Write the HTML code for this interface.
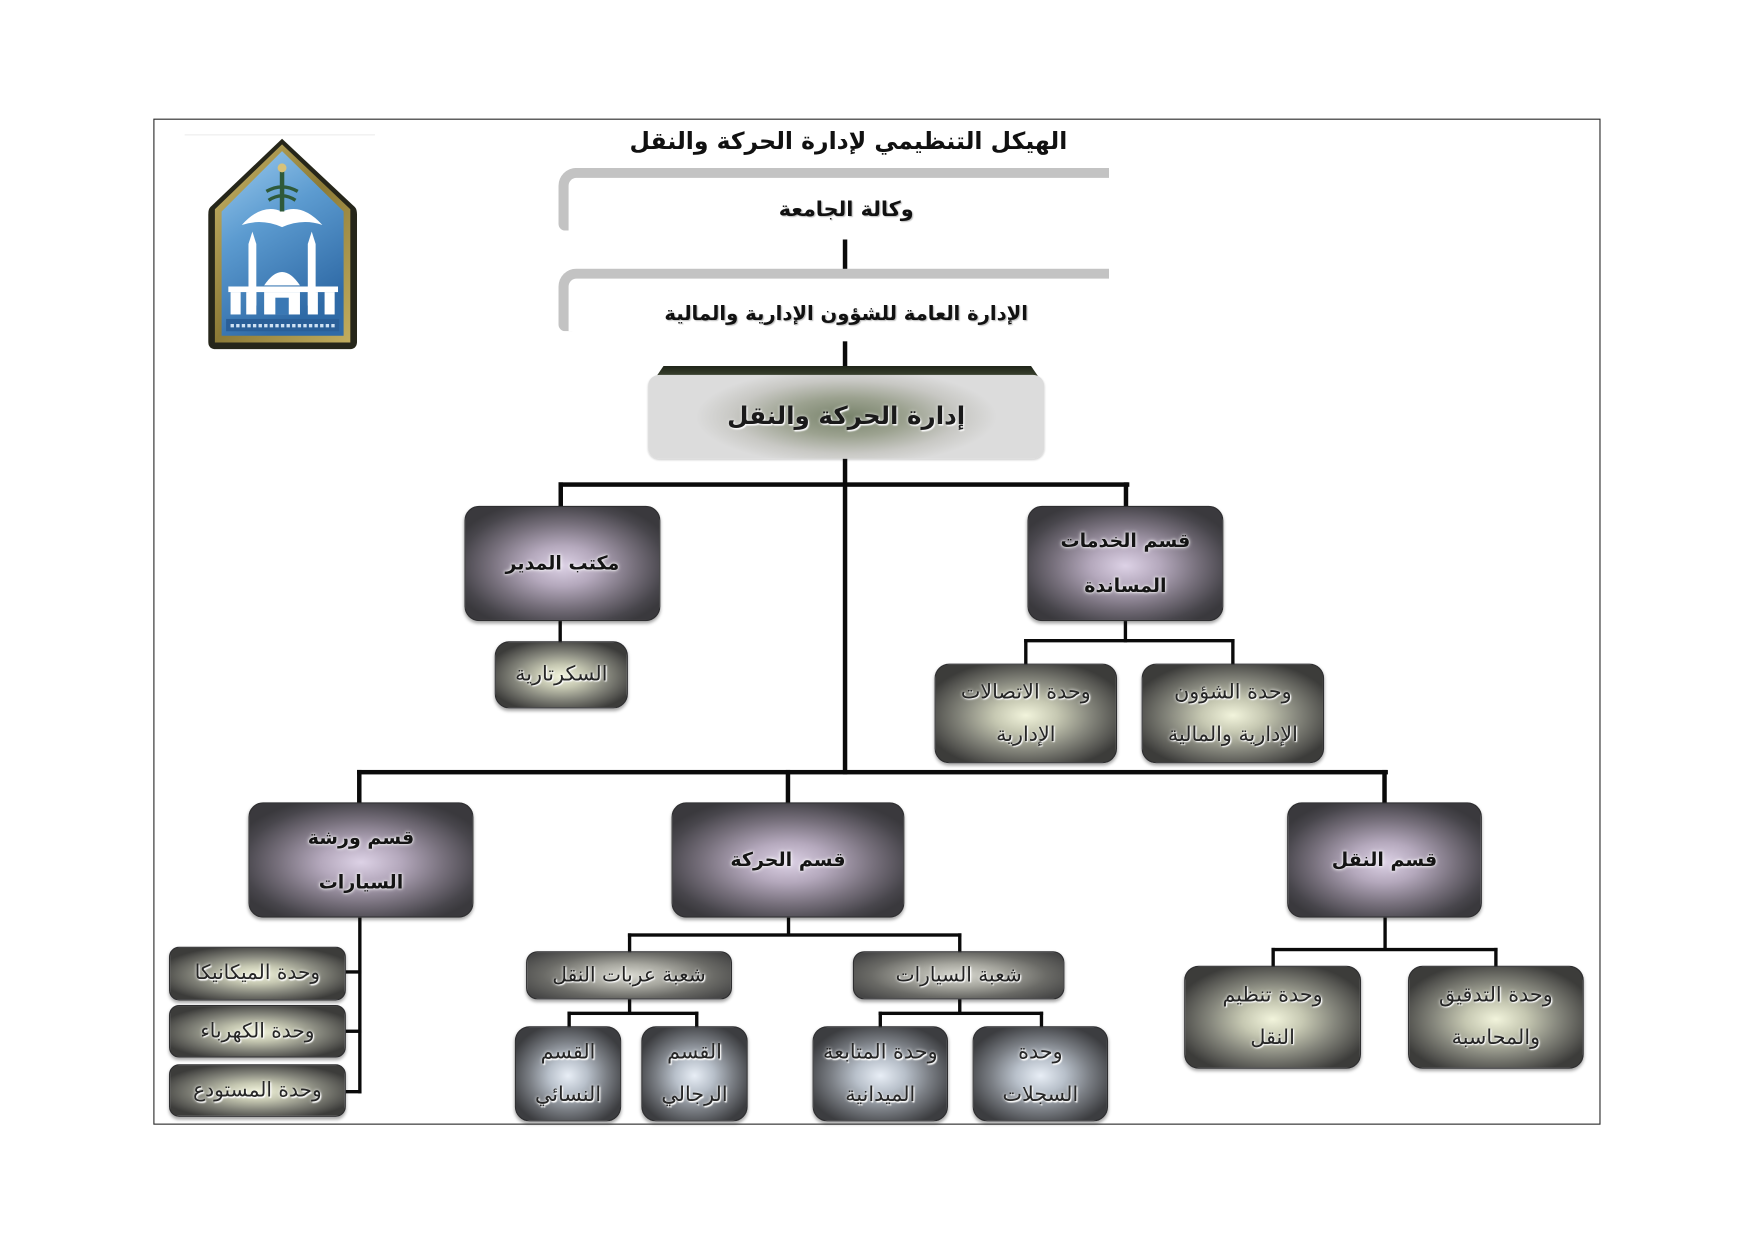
<!DOCTYPE html>
<html lang="ar">
<head>
<meta charset="utf-8">
<style>
html,body{margin:0;padding:0;background:#fff;}
body{width:1755px;height:1240px;overflow:hidden;position:relative;}
#stage{position:absolute;left:0;top:0;width:1568px;height:1108px;transform:scale(1.11926,1.1191);transform-origin:0 0;}
.a{position:absolute;}
.ln{position:absolute;background:#0a0a0a;}
.box{position:absolute;box-sizing:border-box;border-radius:13px;display:flex;align-items:center;justify-content:center;text-align:center;direction:rtl;
 font-family:"DejaVu Sans",sans-serif;color:#141414;border:1.5px solid #2e2e30;
 box-shadow:0 2px 3px rgba(0,0,0,.35);}
.pur{background:radial-gradient(ellipse 60% 60% at 50% 52%,#ddd2e6 0%,#b4a8bc 30%,#77707c 62%,#48464c 88%,#3a393d 100%);font-size:17px;line-height:40px;
 text-shadow:0 0 4px #fff,0 0 2px #fff;font-weight:bold;}
.grn{background:radial-gradient(ellipse 58% 58% at 50% 52%,#f2f4dc 0%,#c6c8b2 30%,#85867c 62%,#545450 88%,#3c3c3a 100%);font-size:18.5px;line-height:38px;color:#262626;
 text-shadow:0 0 3px #fff,1px 1px 1px #fff;}
.blu{background:radial-gradient(ellipse 58% 58% at 50% 52%,#e8eef6 0%,#b8c0ca 32%,#7a7e84 64%,#505256 88%,#3c3d40 100%);font-size:18.5px;line-height:38px;color:#262626;
 text-shadow:0 0 3px #fff,1px 1px 1px #fff;}
.gry{background:radial-gradient(ellipse 60% 70% at 50% 50%,#d8d8d0 0%,#a8a8a0 35%,#6a6a66 70%,#464646 100%);font-size:18px;color:#222;
 text-shadow:0 0 3px #fff,1px 1px 1px #fff;border-radius:10px;}
.txt{position:absolute;direction:rtl;text-align:center;font-family:"DejaVu Sans",sans-serif;color:#111;white-space:nowrap;}
.brk{position:absolute;box-sizing:border-box;border-top:9px solid #c3c3c3;border-left:9px solid #c3c3c3;border-top-left-radius:16px;border-bottom-left-radius:6px;}
</style>
</head>
<body>
<div id="stage">
  <!-- frame -->
  <div class="a" style="left:137px;top:106px;width:1293px;height:899px;border:1.5px solid #2a2a2a;box-sizing:border-box;"></div>
  <div class="a" style="left:165px;top:120px;width:170px;height:1px;background:#ececec;"></div>

  <!-- logo -->
  <svg class="a" style="left:186px;top:123px;" width="133" height="190" viewBox="0 0 133 190">
    <defs>
      <linearGradient id="bg" x1="0" y1="0" x2="0.4" y2="1">
        <stop offset="0" stop-color="#9ccbee"/>
        <stop offset="0.45" stop-color="#5c9bd0"/>
        <stop offset="1" stop-color="#2f6aa6"/>
      </linearGradient>
      <linearGradient id="gd" x1="0" y1="0" x2="1" y2="1">
        <stop offset="0" stop-color="#c9b66a"/>
        <stop offset="0.5" stop-color="#8c7a36"/>
        <stop offset="1" stop-color="#c2ad5e"/>
      </linearGradient>
    </defs>
    <path d="M66 1 L131 62 Q133 64 133 69 L133 182 Q133 189 126 189 L7 189 Q0 189 0 182 L0 69 Q0 64 2 62 Z" fill="#26261a"/>
    <path d="M66 6 L127 64 L127 183 L6 183 L6 64 Z" fill="url(#gd)"/>
    <path d="M66 12 L121 66 L121 177 L12 177 L12 66 Z" fill="url(#bg)"/>
    <path d="M30 78 Q48 58 66 66 Q84 58 102 78 Q84 72 66 80 Q48 72 30 78 Z" fill="#fff"/>
    <rect x="64" y="30" width="4" height="36" fill="#2f5a3a"/>
    <circle cx="66" cy="27" r="4" fill="#d7c27a"/>
    <path d="M52 48 Q66 40 80 48 M54 56 Q66 48 78 56" stroke="#2f5a3a" stroke-width="3" fill="none"/>
    <rect x="36" y="95" width="7" height="55" fill="#fff"/>
    <path d="M36 95 L39.5 84 L43 95 Z" fill="#fff"/>
    <rect x="89" y="95" width="7" height="55" fill="#fff"/>
    <path d="M89 95 L92.5 84 L96 95 Z" fill="#fff"/>
    <path d="M50 132 Q66 108 82 132 Z" fill="#fff"/>
    <rect x="18" y="133" width="98" height="5" fill="#fff"/>
    <rect x="20" y="138" width="9" height="20" fill="#fff"/>
    <rect x="34" y="138" width="9" height="20" fill="#fff"/>
    <rect x="50" y="138" width="32" height="20" fill="#fff"/>
    <rect x="60" y="143" width="12" height="15" fill="#3a78b4"/>
    <rect x="89" y="138" width="9" height="20" fill="#fff"/>
    <rect x="104" y="138" width="9" height="20" fill="#fff"/>
    <rect x="16" y="162" width="101" height="11" fill="#2a5f98"/>
    <path d="M20 168 h94" stroke="#cfe2f4" stroke-width="3" stroke-dasharray="3 2"/>
  </svg>

  <!-- title -->
  <div class="txt" style="left:540px;top:110px;width:436px;font-size:21px;font-weight:bold;line-height:32px;">الهيكل التنظيمي لإدارة الحركة والنقل</div>

  <!-- brackets -->
  <div class="brk" style="left:499px;top:150px;width:492px;height:56px;"></div>
  <div class="txt" style="left:600px;top:172px;width:312px;font-size:18.5px;font-weight:bold;line-height:32px;text-shadow:1px 1px 1px #bbb;">وكالة الجامعة</div>
  <div class="ln" style="left:753px;top:214px;width:4px;height:34px;"></div>
  <div class="brk" style="left:499px;top:240px;width:492px;height:56px;"></div>
  <div class="txt" style="left:560px;top:265px;width:392px;font-size:17.5px;font-weight:bold;line-height:32px;text-shadow:1px 1px 1px #bbb;">الإدارة العامة للشؤون الإدارية والمالية</div>
  <div class="ln" style="left:753px;top:305px;width:4px;height:28px;"></div>

  <!-- main box -->
  <div class="a" style="left:586px;top:327px;width:342px;height:10px;background:linear-gradient(#1f2418,#3e4632);clip-path:polygon(2% 0,98% 0,100% 100%,0 100%);"></div>
  <div class="box" style="left:579px;top:335px;width:354px;height:75px;border:none;border-radius:10px;box-shadow:0 1px 2px rgba(0,0,0,.2);
    background:radial-gradient(ellipse 38% 58% at 50% 50%,#77826a 0%,#9ca290 40%,#c8c8c4 75%,#dcdcdc 100%);font-size:22px;font-weight:bold;color:#1a1a1a;text-shadow:0 0 3px #eee,1px 1px 1px #fff;">إدارة الحركة والنقل</div>

  <!-- trunk -->
  <div class="ln" style="left:753px;top:410px;width:4px;height:282px;"></div>
  <div class="ln" style="left:499px;top:431px;width:510px;height:4px;"></div>
  <div class="ln" style="left:499px;top:431px;width:4px;height:22px;"></div>
  <div class="ln" style="left:1004px;top:431px;width:4px;height:22px;"></div>

  <div class="box pur" style="left:415px;top:452px;width:175px;height:103px;">مكتب المدير</div>
  <div class="box pur" style="left:918px;top:452px;width:175px;height:103px;">قسم الخدمات<br>المساندة</div>

  <div class="ln" style="left:499px;top:555px;width:3px;height:19px;"></div>
  <div class="box grn" style="left:442px;top:573px;width:119px;height:60px;">السكرتارية</div>

  <div class="ln" style="left:1004px;top:555px;width:3px;height:19px;"></div>
  <div class="ln" style="left:915px;top:571px;width:188px;height:3px;"></div>
  <div class="ln" style="left:915px;top:571px;width:3px;height:23px;"></div>
  <div class="ln" style="left:1100px;top:571px;width:3px;height:23px;"></div>
  <div class="box grn" style="left:835px;top:593px;width:163px;height:89px;">وحدة الاتصالات<br>الإدارية</div>
  <div class="box grn" style="left:1020px;top:593px;width:163px;height:89px;">وحدة الشؤون<br>الإدارية والمالية</div>

  <!-- second level -->
  <div class="ln" style="left:319px;top:688px;width:921px;height:4px;"></div>
  <div class="ln" style="left:319px;top:688px;width:4px;height:30px;"></div>
  <div class="ln" style="left:702px;top:688px;width:4px;height:30px;"></div>
  <div class="ln" style="left:1235px;top:688px;width:4px;height:30px;"></div>

  <div class="box pur" style="left:222px;top:717px;width:201px;height:103px;">قسم ورشة<br>السيارات</div>
  <div class="box pur" style="left:600px;top:717px;width:208px;height:103px;">قسم الحركة</div>
  <div class="box pur" style="left:1150px;top:717px;width:174px;height:103px;">قسم النقل</div>

  <!-- workshop units -->
  <div class="ln" style="left:320px;top:820px;width:3px;height:157px;"></div>
  <div class="ln" style="left:309px;top:867px;width:14px;height:3px;"></div>
  <div class="ln" style="left:309px;top:920px;width:14px;height:3px;"></div>
  <div class="ln" style="left:309px;top:974px;width:14px;height:3px;"></div>
  <div class="box grn" style="left:151px;top:846px;width:158px;height:48px;border-radius:9px;font-size:18px;">وحدة الميكانيكا</div>
  <div class="box grn" style="left:151px;top:898px;width:158px;height:47px;border-radius:9px;font-size:18px;">وحدة الكهرباء</div>
  <div class="box grn" style="left:151px;top:951px;width:158px;height:47px;border-radius:9px;font-size:18px;">وحدة المستودع</div>

  <!-- movement -->
  <div class="ln" style="left:703px;top:820px;width:3px;height:16px;"></div>
  <div class="ln" style="left:561px;top:834px;width:298px;height:3px;"></div>
  <div class="ln" style="left:561px;top:834px;width:3px;height:17px;"></div>
  <div class="ln" style="left:856px;top:834px;width:3px;height:17px;"></div>
  <div class="box gry" style="left:470px;top:850px;width:184px;height:43px;">شعبة عربات النقل</div>
  <div class="box gry" style="left:762px;top:850px;width:189px;height:43px;">شعبة السيارات</div>

  <div class="ln" style="left:561px;top:893px;width:3px;height:13px;"></div>
  <div class="ln" style="left:507px;top:904px;width:117px;height:3px;"></div>
  <div class="ln" style="left:507px;top:904px;width:3px;height:14px;"></div>
  <div class="ln" style="left:621px;top:904px;width:3px;height:14px;"></div>
  <div class="box blu" style="left:460px;top:917px;width:95px;height:85px;">القسم<br>النسائي</div>
  <div class="box blu" style="left:573px;top:917px;width:95px;height:85px;">القسم<br>الرجالي</div>

  <div class="ln" style="left:856px;top:893px;width:3px;height:13px;"></div>
  <div class="ln" style="left:785px;top:904px;width:147px;height:3px;"></div>
  <div class="ln" style="left:785px;top:904px;width:3px;height:14px;"></div>
  <div class="ln" style="left:929px;top:904px;width:3px;height:14px;"></div>
  <div class="box blu" style="left:726px;top:917px;width:121px;height:85px;">وحدة المتابعة<br>الميدانية</div>
  <div class="box blu" style="left:869px;top:917px;width:121px;height:85px;">وحدة<br>السجلات</div>

  <!-- transport -->
  <div class="ln" style="left:1236px;top:820px;width:3px;height:29px;"></div>
  <div class="ln" style="left:1136px;top:847px;width:202px;height:3px;"></div>
  <div class="ln" style="left:1136px;top:847px;width:3px;height:17px;"></div>
  <div class="ln" style="left:1335px;top:847px;width:3px;height:17px;"></div>
  <div class="box grn" style="left:1058px;top:863px;width:158px;height:92px;">وحدة تنظيم<br>النقل</div>
  <div class="box grn" style="left:1258px;top:863px;width:157px;height:92px;">وحدة التدقيق<br>والمحاسبة</div>
</div>
</body>
</html>
